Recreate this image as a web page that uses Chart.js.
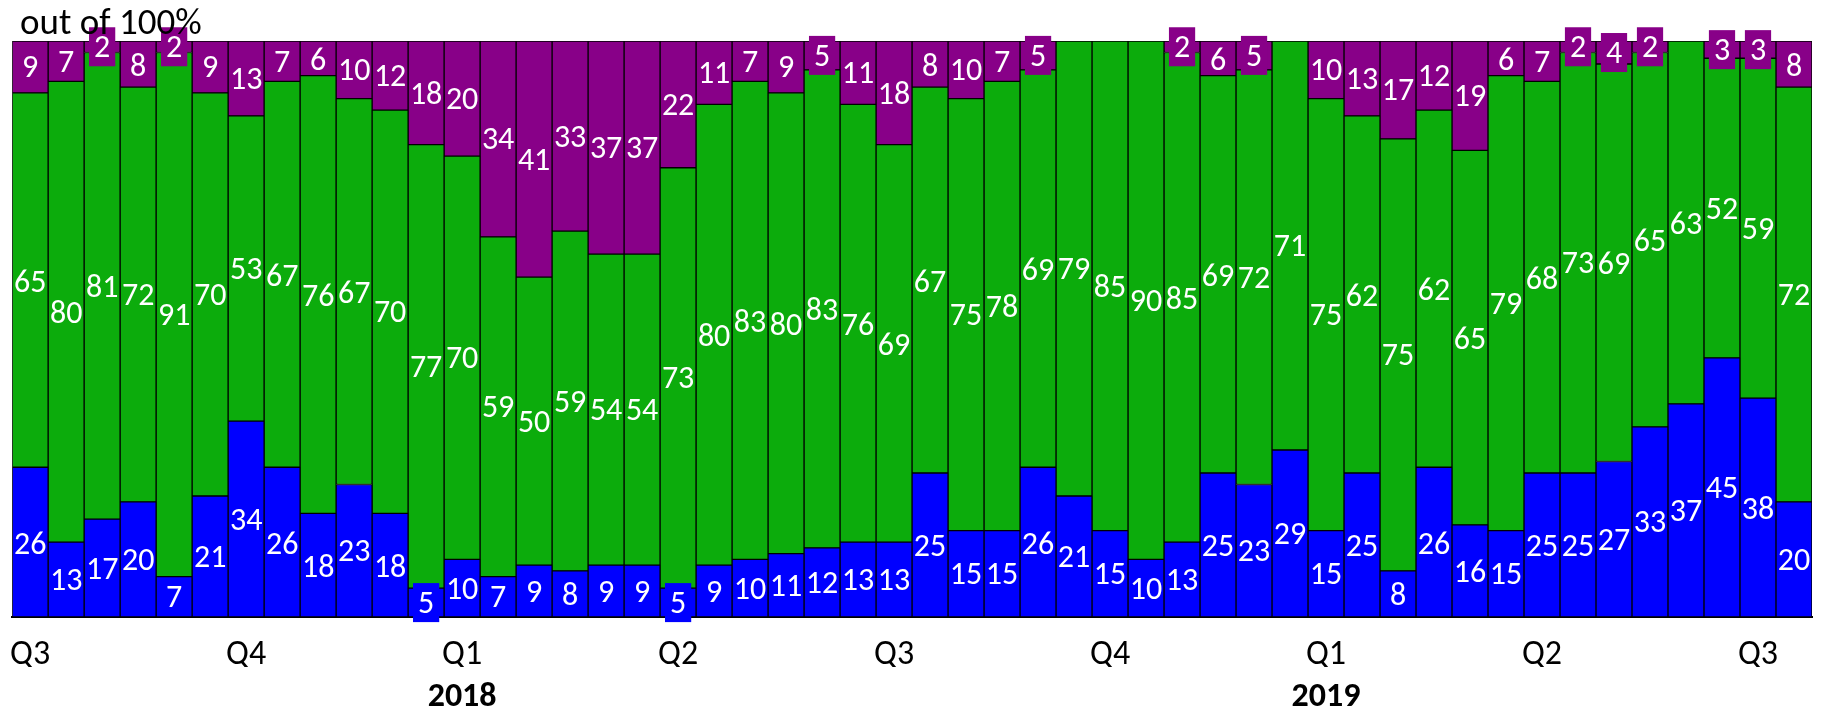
<!DOCTYPE html>
<html>
<head>
<meta charset="utf-8">
<style>
  html, body { margin: 0; padding: 0; background: #fff; }
  #wrap { width: 1825px; height: 713px; }
</style>
<script src="https://cdn.jsdelivr.net/npm/chart.js@4/dist/chart.umd.min.js"></script>
</head>
<body>
<div id="wrap"><canvas id="c" width="1825" height="713"></canvas></div>
<script>
const quarterLabels = ['Q3','','','','','','Q4','','','','','','Q1','','','','','','Q2','','','','','','Q3','','','','','','Q4','','','','','','Q1','','','','','','Q2','','','','','','Q3',''];
const yearLabels = ['','','','','','','','','','','','','2018','','','','','','','','','','','','','','','','','','','','','','','','2019','','','','','','','','','','','','',''];
const blueValues = [26,13,17,20,7,21,34,26,18,23,18,5,10,7,9,8,9,9,5,9,10,11,12,13,13,25,15,15,26,21,15,10,13,25,23,29,15,25,8,26,16,15,25,25,27,33,37,45,38,20];
const greenValues = [65,80,81,72,91,70,53,67,76,67,70,77,70,59,50,59,54,54,73,80,83,80,83,76,69,67,75,78,69,79,85,90,85,69,72,71,75,62,75,62,65,79,68,73,69,65,63,52,59,72];
const purpleValues = [9,7,2,8,2,9,13,7,6,10,12,18,20,34,41,33,37,37,22,11,7,9,5,11,18,8,10,7,5,0,0,0,2,6,5,0,10,13,17,12,19,6,7,2,4,2,0,3,3,8];
const unitText = 'out of 100%';

const FONT = 'Carlito, Lato, sans-serif';
const BLUE = '#0000FF', GREEN = '#0CAC0C', PURPLE = '#880088';

const labelPlugin = {
  id: 'segLabels',
  afterDatasetsDraw(chart) {
    const ctx = chart.ctx;
    ctx.save();
    ctx.font = '32px ' + FONT;
    ctx.textAlign = 'center';
    ctx.textBaseline = 'alphabetic';
    chart.data.datasets.forEach((ds, di) => {
      const meta = chart.getDatasetMeta(di);
      meta.data.forEach((el, i) => {
        const v = ds.data[i];
        if (!v) return;
        const p = el.getProps(['x', 'y', 'base', 'width'], true);
        const cy = (p.y + p.base) / 2;
        const txt = String(v);
        const m = ctx.measureText(txt);
        const asc = m.actualBoundingBoxAscent;
        if (v <= 5) {
          const bw = m.width + 10, bh = 39;
          ctx.fillStyle = ds.backgroundColor;
          ctx.fillRect(p.x - bw / 2, cy - bh / 2, bw, bh);
        }
        ctx.fillStyle = '#fff';
        ctx.fillText(txt, p.x, cy + asc / 2);
      });
    });
    // unit caption
    ctx.textAlign = 'left';
    ctx.fillStyle = '#000';
    ctx.font = '37px ' + FONT;
    ctx.fillText(unitText, 20, 34);
    ctx.restore();
  }
};

new Chart(document.getElementById('c'), {
  type: 'bar',
  data: {
    labels: quarterLabels,
    datasets: [
      { label: 'blue', data: blueValues, backgroundColor: BLUE, borderColor: '#000', borderWidth: 1, borderSkipped: false },
      { label: 'green', data: greenValues, backgroundColor: GREEN, borderColor: '#000', borderWidth: 1, borderSkipped: false },
      { label: 'purple', data: purpleValues, backgroundColor: PURPLE, borderColor: '#000', borderWidth: 1, borderSkipped: false }
    ]
  },
  options: {
    responsive: false,
    animation: false,
    devicePixelRatio: 1,
    layout: { padding: { left: 10, right: 13, top: 41, bottom: 0 } },
    datasets: { bar: { categoryPercentage: 1.0, barPercentage: 1.0 } },
    plugins: { legend: { display: false }, tooltip: { enabled: false }, title: { display: false } },
    scales: {
      x: {
        stacked: true,
        grid: { display: false },
        border: { display: true, color: '#000', width: 2 },
        ticks: { autoSkip: false, maxRotation: 0, color: '#000', font: { family: FONT, size: 34 }, padding: 10 },
        afterFit(s) { s.height = 50; }
      },
      x2: {
        type: 'category',
        labels: yearLabels,
        position: 'bottom',
        grid: { display: false },
        border: { display: false },
        ticks: { autoSkip: false, maxRotation: 0, color: '#000', font: { family: FONT, size: 34, weight: 'bold' }, padding: 2 },
        afterFit(s) { s.height = 46; }
      },
      y: {
        stacked: true,
        display: false,
        min: 0,
        max: 100
      }
    }
  },
  plugins: [labelPlugin]
});
</script>
</body>
</html>
